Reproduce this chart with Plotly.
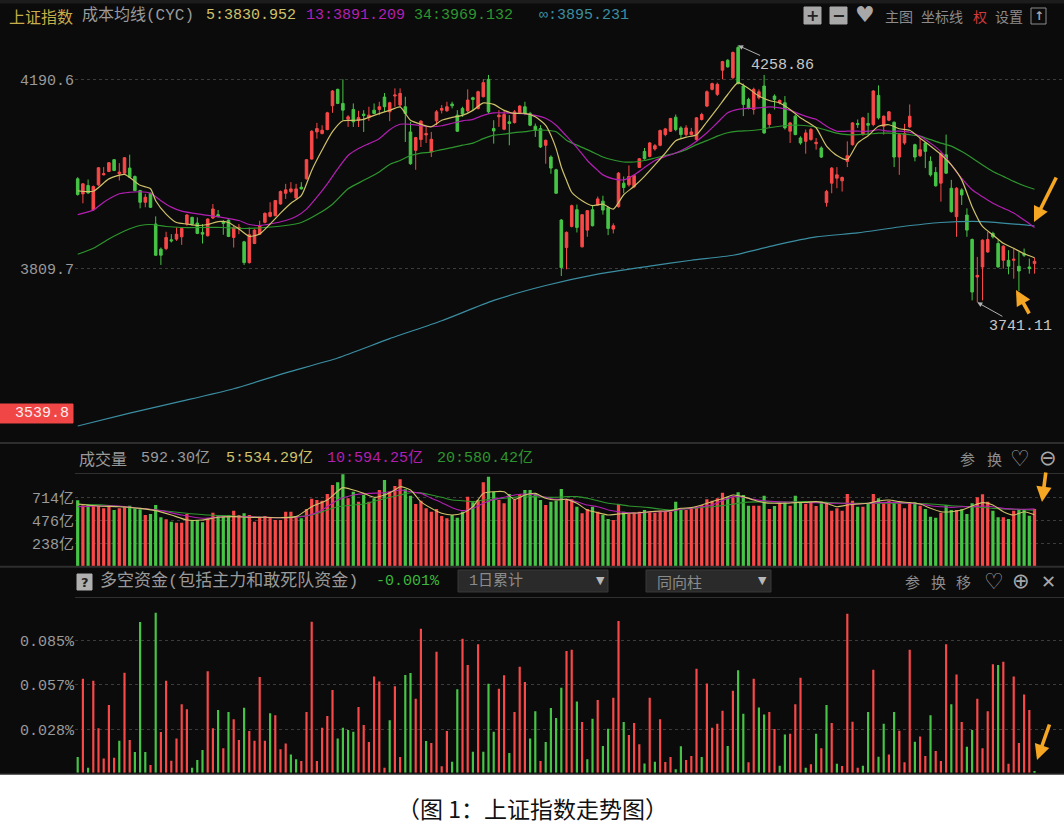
import plotly.graph_objects as go

W, H = 1064, 826

# ---- 上证指数 daily candles ----
opens = [
    3990.1, 3959.7, 3976.6, 3927.3, 3977.9, 3998.2, 4004.9, 4028.6, 4000.2, 4001.5,
    4011.7, 3994.8, 3966.4, 3942.8, 3961.0, 3898.9, 3848.3, 3849.6, 3867.2, 3868.5,
    3873.2, 3898.9, 3912.4, 3900.9, 3882.0, 3875.3, 3911.1, 3917.8, 3903.6, 3907.0,
    3871.9, 3890.1, 3863.1, 3821.2, 3859.7, 3878.6, 3902.3, 3914.4, 3915.8, 3939.4,
    3961.0, 3964.4, 3951.6, 3973.2, 3990.1, 4029.9, 4084.6, 4081.2, 4089.3, 4137.3,
    4170.4, 4142.0, 4110.3, 4129.9, 4108.2, 4120.4, 4113.6, 4128.5, 4129.9, 4155.0,
    4125.1, 4156.9, 4138.6, 4135.3, 4084.6, 4047.5, 4069.1, 4078.5, 4044.1, 4106.9,
    4128.5, 4127.2, 4140.7, 4118.4, 4131.9, 4127.2, 4153.5, 4131.9, 4155.5, 4190.6,
    4091.4, 4115.0, 4090.0, 4104.9, 4103.5, 4123.1, 4135.3, 4121.8, 4096.1, 4091.4,
    4057.6, 4034.0, 4008.3, 3907.0, 3851.6, 3894.2, 3927.9, 3853.0, 3886.7, 3927.9,
    3937.4, 3945.0, 3932.0, 3888.8, 3934.0, 3981.3, 3977.9, 3974.5, 4013.0, 4045.4,
    4035.3, 4050.2, 4057.6, 4079.2, 4086.0, 4114.3, 4092.7, 4079.2, 4079.2, 4069.1,
    4109.6, 4136.6, 4170.4, 4160.3, 4208.9, 4229.1, 4194.0, 4254.8, 4177.1, 4150.1,
    4129.9, 4153.5, 4177.1, 4099.5, 4156.9, 4143.4, 4143.4, 4086.0, 4116.4, 4072.5,
    4065.7, 4069.1, 4060.9, 4052.2, 3942.1, 3981.3, 3991.4, 3986.0, 4025.2, 4058.9,
    4101.5, 4079.2, 4101.5, 4099.4, 4158.2, 4096.1, 4108.2, 4104.2, 4033.9, 4062.3,
    4094.7, 4058.9, 4036.6, 4062.3, 4025.2, 4002.9, 3981.3, 4038.7, 3971.1, 3913.7,
    3967.7, 3917.1, 3867.8, 3792.2, 3812.4, 3842.8, 3880.0, 3859.7, 3825.9, 3825.9,
    3825.9, 3813.8, 3839.4, 3812.4, 3819.2,
]
closes = [
    3958.3, 3979.9, 3961.7, 3974.5, 4012.4, 4000.2, 4022.5, 4006.9, 4003.6, 4032.6,
    3993.4, 3966.4, 3942.8, 3952.9, 3932.7, 3836.1, 3836.1, 3871.9, 3865.1, 3878.6,
    3890.1, 3917.1, 3898.9, 3880.0, 3878.6, 3909.0, 3929.3, 3913.8, 3900.3, 3873.9,
    3892.1, 3892.1, 3821.2, 3877.3, 3886.7, 3895.5, 3920.5, 3922.5, 3946.2, 3964.4,
    3967.8, 3969.8, 3969.8, 3969.8, 4028.6, 4086.0, 4091.4, 4088.0, 4123.1, 4167.0,
    4142.0, 4128.5, 4115.0, 4104.9, 4113.6, 4117.7, 4118.4, 4121.8, 4135.3, 4135.3,
    4143.4, 4158.9, 4162.3, 4121.8, 4020.5, 4073.1, 4106.2, 4081.2, 4069.8, 4125.1,
    4131.9, 4135.3, 4137.3, 4086.0, 4120.4, 4148.8, 4150.1, 4165.6, 4183.9, 4125.1,
    4086.6, 4118.4, 4119.7, 4101.5, 4125.1, 4136.6, 4121.8, 4098.1, 4088.0, 4054.2,
    4067.7, 4011.7, 3961.0, 3811.1, 3882.0, 3936.0, 3892.1, 3917.8, 3925.9, 3895.5,
    3949.6, 3927.0, 3890.1, 3895.5, 4001.5, 3972.5, 3994.8, 3996.8, 4030.6, 4030.6,
    4062.3, 4056.9, 4087.3, 4090.7, 4111.6, 4089.3, 4079.2, 4092.7, 4084.6, 4113.0,
    4119.7, 4165.6, 4181.9, 4180.5, 4226.4, 4215.6, 4244.7, 4181.9, 4140.0, 4131.9,
    4170.4, 4165.6, 4082.6, 4119.7, 4150.1, 4148.1, 4092.7, 4102.8, 4079.2, 4062.3,
    4082.6, 4089.3, 4063.6, 4033.9, 3964.4, 4011.6, 3998.1, 3992.7, 4036.6, 4102.8,
    4099.4, 4112.9, 4098.1, 4167.0, 4112.9, 4116.3, 4125.1, 4033.9, 4079.2, 4081.2,
    4116.3, 4033.9, 4048.8, 4045.4, 3998.1, 3975.9, 4040.7, 4001.5, 3923.9, 3971.1,
    3957.6, 3886.7, 3761.8, 3795.5, 3866.5, 3867.8, 3873.2, 3812.4, 3854.3, 3813.8,
    3828.0, 3804.3, 3836.1, 3809.1, 3823.9,
]
highs = [
    3993.4, 3981.3, 3988.7, 3976.6, 4013.7, 4013.7, 4023.8, 4029.9, 4021.8, 4034.0,
    4038.7, 3996.8, 3967.8, 3959.7, 3962.4, 3914.4, 3851.6, 3883.4, 3878.6, 3892.1,
    3892.1, 3919.2, 3913.8, 3912.4, 3898.9, 3910.4, 3939.4, 3927.3, 3907.0, 3908.4,
    3895.5, 3898.9, 3865.1, 3892.1, 3888.8, 3905.6, 3922.5, 3942.8, 3947.5, 3966.4,
    3979.9, 3983.3, 3979.9, 3983.3, 4029.9, 4088.0, 4102.8, 4098.1, 4125.1, 4169.0,
    4171.7, 4190.6, 4118.4, 4142.0, 4127.2, 4128.5, 4135.3, 4142.0, 4145.4, 4163.0,
    4145.4, 4172.4, 4172.4, 4155.5, 4104.9, 4074.5, 4108.2, 4094.7, 4084.6, 4128.5,
    4138.6, 4145.4, 4145.4, 4128.5, 4135.3, 4170.4, 4155.5, 4167.7, 4190.6, 4199.4,
    4108.2, 4128.5, 4128.5, 4118.4, 4128.5, 4138.6, 4145.4, 4125.1, 4101.5, 4098.1,
    4069.1, 4037.3, 4010.3, 3909.0, 3884.0, 3938.1, 3938.1, 3919.2, 3927.3, 3936.0,
    3954.3, 3956.0, 3934.0, 3900.3, 4003.6, 3994.8, 4017.1, 3998.2, 4032.0, 4052.2,
    4064.4, 4060.3, 4089.3, 4092.7, 4113.0, 4119.7, 4096.1, 4098.1, 4092.7, 4114.3,
    4123.1, 4168.3, 4183.9, 4183.9, 4227.8, 4231.1, 4246.7, 4258.86, 4181.9, 4153.5,
    4173.8, 4170.4, 4199.4, 4123.1, 4160.3, 4150.1, 4156.9, 4104.9, 4119.7, 4075.8,
    4089.3, 4092.7, 4072.4, 4055.5, 3967.7, 4013.7, 4013.7, 3994.8, 4065.7, 4104.2,
    4109.6, 4115.0, 4123.1, 4169.0, 4178.4, 4117.7, 4126.4, 4105.5, 4081.2, 4100.8,
    4140.0, 4060.9, 4072.4, 4063.6, 4035.3, 4013.7, 4043.4, 4079.2, 3988.0, 3973.2,
    3971.1, 3930.6, 3869.8, 3832.7, 3867.8, 3883.3, 3883.3, 3866.5, 3856.3, 3846.2,
    3849.6, 3842.8, 3849.6, 3829.3, 3831.3,
]
lows = [
    3956.3, 3940.8, 3959.7, 3925.9, 3975.9, 3996.8, 4003.6, 4005.6, 3986.7, 4000.2,
    3992.1, 3965.1, 3930.6, 3932.7, 3931.3, 3834.8, 3816.5, 3846.2, 3861.8, 3865.1,
    3857.0, 3895.5, 3895.5, 3878.6, 3859.7, 3873.9, 3909.0, 3912.4, 3877.3, 3872.6,
    3851.6, 3878.6, 3816.5, 3819.2, 3858.4, 3877.3, 3900.3, 3912.4, 3914.4, 3938.1,
    3949.6, 3961.0, 3949.6, 3968.5, 3988.7, 4028.6, 4071.1, 4079.9, 4088.0, 4123.1,
    4140.7, 4108.2, 4094.7, 4094.7, 4094.7, 4084.6, 4106.9, 4120.4, 4118.4, 4125.1,
    4106.2, 4135.3, 4135.3, 4064.4, 4018.4, 4008.3, 4054.2, 4062.3, 4034.0, 4098.1,
    4121.8, 4125.1, 4131.9, 4084.6, 4115.0, 4123.8, 4128.5, 4129.9, 4154.2, 4121.8,
    4061.0, 4094.7, 4088.0, 4057.6, 4101.5, 4121.8, 4118.4, 4096.1, 4074.5, 4052.2,
    4020.5, 4000.2, 3959.7, 3794.2, 3807.7, 3892.1, 3882.0, 3851.6, 3873.2, 3894.2,
    3936.0, 3918.0, 3876.6, 3880.0, 3932.0, 3961.0, 3974.5, 3971.2, 4011.8, 4028.6,
    4033.3, 4046.8, 4055.6, 4075.8, 4084.6, 4086.0, 4071.1, 4075.8, 4077.9, 4067.1,
    4107.6, 4134.6, 4168.3, 4156.9, 4190.6, 4214.3, 4190.6, 4180.5, 4116.4, 4129.9,
    4119.7, 4150.1, 4080.6, 4092.7, 4129.9, 4140.0, 4089.3, 4062.3, 4077.9, 4058.9,
    4040.7, 4067.1, 4048.8, 4031.9, 3934.0, 3961.0, 3971.1, 3964.4, 4013.7, 4056.9,
    4092.7, 4077.1, 4079.2, 4096.1, 4109.6, 4079.2, 4106.2, 4013.7, 3998.1, 4058.9,
    4092.7, 4025.2, 4033.9, 4011.6, 3994.8, 3974.5, 3944.1, 4000.2, 3921.8, 3873.2,
    3937.4, 3873.2, 3745.0, 3741.11, 3745.0, 3840.8, 3869.8, 3811.1, 3809.1, 3797.6,
    3788.8, 3763.8, 3832.7, 3798.9, 3798.9,
]

# 成本均线 (CYC) read at sampled days
cyc5_x = [0, 3, 6, 9, 12, 14, 15, 17, 19, 21, 23, 25, 27, 29, 31, 33, 35, 37, 39, 41,
          43, 45, 47, 49, 51, 53, 55, 57, 59, 60, 62, 64, 66, 68, 70, 72, 74, 76, 78, 80,
          82, 84, 86, 88, 90, 91, 92, 93, 94, 95, 97, 99, 101, 103, 105, 107, 109, 111, 113, 115,
          117, 119, 121, 123, 125, 127, 129, 131, 133, 135, 137, 139, 141, 142, 144, 146, 148, 150, 152, 154,
          156, 158, 160, 162, 164, 166, 168, 170, 172, 174, 176, 178, 180, 182, 184]
cyc5 = [3966, 3965, 3990, 3999, 3977, 3970, 3946, 3919, 3902, 3899, 3896, 3898, 3904, 3902, 3889, 3874, 3879, 3899, 3921, 3941,
        3956, 4007, 4048, 4085, 4107, 4108, 4110, 4118, 4125, 4128, 4135, 4108, 4100, 4095, 4108, 4114, 4118, 4128, 4143, 4140,
        4128, 4122, 4122, 4115, 4098, 4078, 4051, 4014, 3987, 3963, 3946, 3936, 3939, 3929, 3958, 3975, 3995, 4018, 4042, 4067,
        4074, 4079, 4105, 4132, 4160, 4184, 4172, 4157, 4148, 4143, 4130, 4113, 4100, 4093, 4056, 4037, 4029, 4062, 4077, 4096,
        4099, 4091, 4088, 4072, 4056, 4039, 4018, 3988, 3934, 3894, 3877, 3860, 3850, 3839, 3831]

cyc13_x = [0, 3, 5, 8, 10, 12, 14, 16, 18, 20, 24, 28, 31, 33, 35, 37, 40, 42, 44, 46,
           48, 50, 52, 54, 56, 58, 60, 62, 64, 66, 68, 70, 72, 74, 76, 78, 80, 82, 84, 86,
           88, 90, 92, 94, 96, 98, 100, 101, 103, 105, 107, 109, 111, 113, 115, 117, 119, 121, 123, 125,
           127, 129, 131, 133, 135, 137, 139, 141, 142, 144, 146, 148, 150, 152, 154, 156, 158, 160, 162, 164,
           166, 168, 170, 172, 174, 176, 178, 180, 182, 184]
cyc13 = [3918, 3927, 3943, 3960, 3963, 3964, 3961, 3946, 3933, 3925, 3918, 3912, 3906, 3898, 3896, 3899, 3906, 3914, 3929, 3953,
         3980, 4010, 4037, 4051, 4061, 4071, 4089, 4100, 4100, 4097, 4095, 4097, 4102, 4107, 4110, 4118, 4123, 4123, 4122, 4121,
         4118, 4112, 4098, 4076, 4053, 4027, 4007, 3998, 3990, 3988, 3998, 4013, 4027, 4035, 4042, 4052, 4066, 4083, 4103, 4123,
         4130, 4132, 4133, 4135, 4133, 4128, 4120, 4113, 4110, 4096, 4086, 4086, 4086, 4086, 4089, 4086, 4086, 4084, 4076, 4062,
         4045, 4018, 3991, 3968, 3954, 3941, 3931, 3921, 3907, 3892]

cyc34_x = [0, 3, 6, 9, 12, 14, 17, 20, 24, 28, 32, 36, 40, 43, 46, 49, 52, 55, 58, 60,
           62, 64, 66, 68, 70, 72, 74, 76, 78, 80, 82, 84, 86, 88, 90, 92, 94, 96, 98, 100,
           101, 103, 105, 107, 109, 111, 113, 115, 117, 119, 121, 123, 125, 127, 129, 131, 133, 135, 137, 139,
           141, 143, 146, 148, 150, 152, 154, 156, 158, 160, 162, 164, 166, 168, 170, 172, 174, 176, 178, 180,
           182, 184]
cyc34 = [3838, 3850, 3869, 3885, 3896, 3898, 3894, 3892, 3892, 3892, 3890, 3892, 3896, 3902, 3918, 3939, 3970, 3987, 4004, 4019,
         4027, 4037, 4042, 4044, 4049, 4053, 4058, 4062, 4071, 4078, 4080, 4083, 4085, 4088, 4088, 4085, 4068, 4058, 4049, 4039,
         4034, 4028, 4024, 4024, 4027, 4032, 4037, 4042, 4049, 4059, 4067, 4076, 4083, 4086, 4087, 4089, 4093, 4096, 4098, 4098,
         4096, 4091, 4082, 4079, 4079, 4080, 4082, 4082, 4081, 4079, 4076, 4069, 4062, 4056, 4045, 4032, 4018, 4005, 3995, 3985,
         3976, 3969]

cycinf_x = [0, 10, 20, 30, 40, 50, 60, 70, 80, 90, 100, 110, 118, 126, 134, 142, 150, 158, 166, 174, 184]
cycinf = [3492, 3518, 3542, 3567, 3599, 3629, 3668, 3704, 3745, 3775, 3798, 3814, 3826, 3836, 3856, 3873, 3881, 3893, 3902, 3904, 3895]

# ---- 成交量 (亿) ----
volumes = [
    683, 631, 645, 627, 624, 600, 634, 583, 600, 617,
    627, 600, 590, 531, 541, 634, 507, 486, 462, 451,
    451, 541, 479, 479, 455, 497, 555, 531, 521, 531,
    576, 531, 549, 531, 462, 507, 521, 507, 479, 479,
    565, 565, 521, 497, 593, 700, 686, 679, 748, 841,
    869, 952, 704, 772, 669, 738, 669, 704, 790, 893,
    772, 831, 900, 797, 731, 645, 679, 600, 565, 593,
    521, 497, 531, 503, 565, 720, 662, 686, 869, 927,
    772, 686, 652, 748, 693, 748, 790, 790, 755, 686,
    634, 669, 679, 800, 686, 693, 617, 549, 593, 617,
    565, 531, 490, 479, 645, 565, 541, 555, 565, 583,
    559, 555, 576, 572, 565, 669, 583, 583, 607, 617,
    634, 693, 679, 704, 762, 720, 714, 766, 738, 627,
    627, 627, 731, 593, 624, 659, 662, 627, 731, 662,
    645, 669, 624, 669, 662, 576, 600, 576, 748, 679,
    617, 617, 652, 748, 704, 652, 676, 669, 652, 600,
    662, 662, 627, 593, 513, 503, 555, 634, 583, 583,
    590, 541, 652, 714, 745, 669, 576, 507, 507, 490,
    576, 593, 593, 524, 592,
]

vma5_x = [0, 4, 8, 12, 15, 18, 21, 24, 27, 30, 33, 36, 39, 42, 45, 48, 51, 53, 55, 57,
          59, 61, 62, 64, 66, 68, 70, 72, 74, 76, 78, 80, 82, 84, 86, 88, 90, 92, 94, 96,
          98, 100, 102, 104, 106, 108, 110, 112, 114, 116, 118, 120, 122, 124, 126, 128, 130, 132, 134, 136,
          138, 140, 142, 144, 146, 148, 150, 152, 154, 156, 158, 160, 162, 164, 166, 168, 170, 172, 174, 176,
          178, 180, 182, 184]
vma5 = [645, 624, 617, 600, 576, 531, 479, 479, 507, 514, 507, 507, 503, 514, 617, 686, 814, 790, 755, 714,
        738, 790, 824, 790, 669, 600, 549, 531, 549, 617, 755, 772, 772, 693, 738, 755, 704, 686, 693, 652,
        583, 555, 531, 541, 549, 555, 565, 572, 576, 600, 607, 634, 669, 700, 738, 721, 686, 659, 652, 652,
        659, 662, 669, 652, 617, 634, 645, 652, 676, 686, 669, 659, 645, 600, 565, 565, 583, 624, 659, 634,
        565, 531, 565, 534]

vma10_x = [0, 4, 8, 12, 16, 20, 24, 28, 32, 36, 40, 44, 47, 50, 53, 56, 59, 62, 64, 66,
           68, 70, 72, 74, 76, 78, 80, 82, 84, 86, 88, 90, 92, 94, 96, 98, 100, 102, 104, 106,
           108, 110, 112, 114, 116, 118, 120, 122, 124, 126, 128, 130, 132, 134, 136, 138, 140, 142, 144, 146,
           148, 150, 152, 154, 156, 158, 160, 162, 164, 166, 168, 170, 172, 174, 176, 178, 180, 182, 184]
vma10 = [617, 624, 624, 600, 576, 531, 497, 514, 514, 507, 503, 521, 583, 686, 738, 755, 762, 790, 772, 755,
         704, 659, 607, 576, 600, 652, 693, 714, 738, 748, 738, 714, 693, 693, 669, 634, 617, 583, 565, 555,
         549, 565, 565, 572, 590, 600, 617, 634, 680, 721, 714, 693, 679, 669, 665, 662, 659, 659, 652, 652,
         652, 645, 652, 659, 662, 659, 652, 645, 627, 617, 610, 617, 617, 624, 617, 600, 593, 590, 594]

vma20_x = [0, 5, 10, 15, 20, 25, 30, 35, 40, 45, 50, 55, 60, 62, 64, 66, 68, 70, 72, 74,
           76, 78, 80, 82, 84, 86, 88, 90, 92, 94, 96, 98, 100, 102, 104, 106, 108, 110, 112, 114,
           116, 118, 120, 122, 124, 128, 132, 136, 140, 144, 148, 152, 156, 160, 164, 168, 172, 176, 180, 184]
vma20 = [641, 634, 607, 583, 555, 531, 521, 507, 507, 531, 617, 645, 714, 738, 762, 760, 738, 714, 686, 679,
         669, 686, 693, 704, 714, 728, 721, 714, 714, 721, 721, 704, 679, 652, 641, 624, 617, 607, 593, 583,
         590, 600, 610, 617, 628, 659, 669, 665, 669, 662, 652, 652, 655, 652, 645, 627, 617, 600, 590, 580]

# ---- 多空资金 (%, negative = green bar, drawn as 同向柱) ----
flow = [
    -0.0101, 0.0606, -0.0032, 0.0593, 0.0286, 0.0092, 0.0436, 0.0097, -0.0206, 0.0645,
    0.0211, -0.0133, -0.0972, -0.0133, 0.0049, -0.1032, 0.0262, 0.0593, 0.0077, 0.0221,
    0.0441, 0.0409, -0.0032, -0.0082, -0.0146, 0.0654, 0.0286, -0.0404, 0.0157, -0.0391,
    0.0344, 0.0211, -0.0419, 0.0269, 0.0206, 0.0617, 0.0206, -0.0383, 0.0370, 0.0151,
    0.0189, -0.0118, -0.0086, 0.0075, 0.0391, 0.0974, 0.0075, 0.0290, 0.0366, 0.0533,
    -0.0221, -0.0290, -0.0275, -0.0264, 0.0424, 0.0307, 0.0198, 0.0621, 0.0589, 0.0032,
    -0.0338, 0.0557, 0.0101, -0.0630, -0.0643, 0.0477, 0.0929, -0.0204, 0.0191, 0.0780,
    0.0041, 0.0269, -0.0071, -0.0538, 0.0864, 0.0694, -0.0135, 0.0828, -0.0135, -0.0574,
    -0.0264, 0.0542, 0.0628, -0.0127, 0.0391, 0.0684, 0.0585, -0.0221, -0.0396, 0.0075,
    -0.0198, -0.0417, -0.0353, -0.0548, 0.0785, 0.0793, -0.0460, 0.0327, -0.0086, -0.0348,
    0.0469, -0.0172, -0.0284, 0.0484, 0.0978, -0.0327, 0.0243, 0.0320, 0.0183, -0.0060,
    0.0484, -0.0071, 0.0344, 0.0069, 0.0101, -0.0022, -0.0170, 0.0082, 0.0108, 0.0671,
    -0.0101, 0.0576, 0.0290, 0.0316, 0.0400, -0.0172, 0.0529, -0.0660, -0.0381, 0.0067,
    0.0606, -0.0421, -0.0376, 0.0391, 0.0282, -0.0045, -0.0247, 0.0252, 0.0441, 0.0613,
    -0.0032, 0.0054, -0.0252, 0.0157, -0.0436, 0.0320, -0.0058, 0.0043, 0.1026, 0.0329,
    0.0032, -0.0045, -0.0391, 0.0664, -0.0103, -0.0316, 0.0118, -0.0391, 0.0271, 0.0067,
    0.0793, -0.0200, 0.0234, 0.0108, -0.0370, 0.0140, 0.0075, 0.0828, -0.0441, 0.0634,
    0.0327, -0.0168, -0.0275, 0.0477, 0.0157, 0.0396, 0.0699, -0.0694, 0.0716, 0.0058,
    0.0621, 0.0191, 0.0505, 0.0404, -0.0011,
]

price_ticks = [4190.6, 3809.7]
vol_ticks = [714, 476, 238]
flow_ticks = [0.085, 0.057, 0.028]

RED = "#f84848"
GREEN = "#46c446"
C5, C13, C34, CINF = "#cfc26a", "#b21fb2", "#2e962e", "#3b8ea2"
GRAY = "#9a9a9a"
MONO = "Liberation Mono, Noto Sans CJK SC"
CJK = "Noto Sans CJK SC"
BG = "#0b0b0b"

days = list(range(len(closes)))


def px(x):
    return x / W


def py(y):
    return 1 - y / H


fig = go.Figure()

# main pane
fig.add_trace(go.Candlestick(
    x=days, open=opens, high=highs, low=lows, close=closes,
    increasing=dict(line=dict(color=RED, width=1), fillcolor=RED),
    decreasing=dict(line=dict(color=GREEN, width=1), fillcolor=GREEN),
    whiskerwidth=0, xaxis="x", yaxis="y",
))
for xs, ys, c in [(cycinf_x, cycinf, CINF), (cyc34_x, cyc34, C34),
                  (cyc13_x, cyc13, C13), (cyc5_x, cyc5, C5)]:
    fig.add_trace(go.Scatter(x=xs, y=ys, mode="lines", yaxis="y",
                             line=dict(color=c, width=1.2, shape="spline", smoothing=0.6)))

# volume pane
vol_colors = [RED if c >= o else GREEN for o, c in zip(opens, closes)]
fig.add_trace(go.Bar(x=days, y=volumes, width=0.62, marker=dict(color=vol_colors, line_width=0), yaxis="y2"))
for xs, ys, c in [(vma20_x, vma20, C34), (vma10_x, vma10, C13), (vma5_x, vma5, C5)]:
    fig.add_trace(go.Scatter(x=xs, y=ys, mode="lines", yaxis="y2",
                             line=dict(color=c, width=1.1, shape="spline", smoothing=0.6)))

# money flow pane
fig.add_trace(go.Bar(x=days, y=[abs(v) for v in flow], width=0.42,
                     marker=dict(color=[RED if v > 0 else GREEN for v in flow], line_width=0),
                     yaxis="y3"))

shapes = []
ann = []


def text(x, y, s, color=GRAY, size=16, anchor="left", family=MONO):
    ann.append(dict(x=px(x), y=py(y), xref="paper", yref="paper", text=s, showarrow=False,
                    xanchor=anchor, yanchor="middle", font=dict(family=family, size=size, color=color)))


def rect(x0, y0, x1, y1, fill, line=None):
    shapes.append(dict(type="rect", xref="paper", yref="paper", x0=px(x0), x1=px(x1),
                       y0=py(y1), y1=py(y0), fillcolor=fill,
                       line=dict(color=line or fill, width=1), layer="below"))


def hline(y, x0, x1, color, width=1):
    shapes.append(dict(type="line", xref="paper", yref="paper", x0=px(x0), x1=px(x1),
                       y0=py(y), y1=py(y), line=dict(color=color, width=width)))


# caption area
rect(0, 775, W, H, "white")
text(532, 808, "（图 1：上证指数走势图）", "#111111", 23, "center", CJK)

# frame lines
rect(0, 0, W, 3, "#1d1d1d")
hline(443, 0, W, "#2e2e2e", 2)
hline(566.8, 0, W, "#2e2e2e", 2)
hline(473.5, 75, W, "#303030")
hline(597.5, 75, W, "#303030")
hline(774, 0, W, "#3a3a3a")

# header row of main pane
text(7, 16, "上证指数", "#c8ae4a", 16, family=CJK)
text(80, 16, "成本均线(CYC)", GRAY, 16)
text(204, 16, "5:3830.952", C5, 15)
text(304, 16, "13:3891.209", C13, 15)
text(412, 16, "34:3969.132", C34, 15)
text(537, 16, "∞:3895.231", CINF, 15)
rect(804, 7, 821, 24, "#a8a8a8")
rect(830, 7, 847, 24, "#a8a8a8")
text(812.5, 15.5, "<b>+</b>", "#222222", 16, "center", "DejaVu Sans")
text(838.5, 15.5, "<b>−</b>", "#222222", 16, "center", "DejaVu Sans")
text(865, 15, "♥", "#a8a8a8", 22, "center", "DejaVu Sans")
text(883, 16, "主图", "#8c8c8c", 14, family=CJK)
text(919, 16, "坐标线", "#8c8c8c", 14, family=CJK)
text(971, 16, "权", "#d23a3a", 14, family=CJK)
text(993, 16, "设置", "#8c8c8c", 14, family=CJK)
rect(1031, 8, 1046, 24, BG, "#8c8c8c")
text(1038.5, 16, "<b>↑</b>", "#a8a8a8", 12, "center", "DejaVu Sans")

# price labels
rect(0, 404, 73, 423, "#f04646")
text(71, 413.5, "3539.8", "#ffecec", 15, "right")

# volume header
text(77, 458, "成交量", GRAY, 16, family=CJK)
text(139, 458, "592.30亿", GRAY, 15)
text(224, 458, "5:534.29亿", C5, 15)
text(325, 458, "10:594.25亿", C13, 15)
text(435, 458, "20:580.42亿", C34, 15)
text(967, 458, "参", "#8c8c8c", 15, "center", CJK)
text(994, 458, "换", "#8c8c8c", 15, "center", CJK)
text(1020, 458, "♡", "#a8a8a8", 22, "center", "DejaVu Sans")
text(1048, 458, "⊖", "#a8a8a8", 21, "center", "DejaVu Sans")

# money flow header
rect(77, 574, 92, 590, "#b0b0b0")
text(84.5, 582, "<b>?</b>", "#222222", 13, "center", "DejaVu Sans")
text(98, 581, "多空资金(包括主力和敢死队资金)", GRAY, 17)
text(374, 581, "-0.001%", "#3cb83c", 15)
rect(458, 570, 608, 592, "#2a2a2a", "#383838")
text(467, 581, "1日累计", "#8a8a8a", 15)
text(600, 580, "▼", "#b8b8b8", 11, "center", "DejaVu Sans")
rect(646, 570, 771, 592, "#2a2a2a", "#383838")
text(655, 581, "同向柱", "#8a8a8a", 15, family=CJK)
text(762, 580, "▼", "#b8b8b8", 11, "center", "DejaVu Sans")
for xx, s in [(912, "参"), (938, "换"), (963, "移")]:
    text(xx, 581, s, "#8c8c8c", 15, "center", CJK)
text(994, 581, "♡", "#a8a8a8", 22, "center", "DejaVu Sans")
text(1021, 581, "⊕", "#a8a8a8", 21, "center", "DejaVu Sans")
text(1048, 581, "✕", "#a8a8a8", 18, "center", "DejaVu Sans")

# high / low marks
ann.append(dict(x=127, y=highs[127], xref="x", yref="y", text="4258.86", showarrow=True,
                ax=44, ay=20, arrowhead=2, arrowsize=1, arrowwidth=1, arrowcolor="#b0b0b0",
                font=dict(family=MONO, size=15, color="#c8c8c8")))
ann.append(dict(x=173, y=min(lows), xref="x", yref="y", text="3741.11", showarrow=True,
                ax=43, ay=24, arrowhead=2, arrowsize=1, arrowwidth=1, arrowcolor="#b0b0b0",
                font=dict(family=MONO, size=15, color="#c8c8c8")))

# orange pointer arrows
for (tx, ty), (dx, dy) in [((1034, 222), (23, -46)), ((1016, 290), (14, 25)),
                           ((1042, 502), (4, -31)), ((1037, 760), (13, -37))]:
    ann.append(dict(x=px(tx), y=py(ty), xref="paper", yref="paper", text="", showarrow=True,
                    ax=dx, ay=dy, arrowhead=2, arrowsize=0.85, arrowwidth=3.6, arrowcolor="#f5a623"))

axis_common = dict(showline=False, zeroline=False, ticks="", gridcolor="#3c3c3c",
                   griddash="dot", gridwidth=1, anchor="x",
                   tickfont=dict(family=MONO, size=15, color=GRAY))

fig.update_layout(
    width=W, height=H, autosize=False,
    margin=dict(l=0, r=0, t=0, b=0),
    paper_bgcolor=BG, plot_bgcolor=BG,
    showlegend=False, hovermode=False,
    boxgap=0.3,
    xaxis=dict(domain=[px(75), 1], range=[-0.519, 189.67], showgrid=False, zeroline=False,
               showticklabels=False, ticks="", rangeslider=dict(visible=False)),
    yaxis=dict(domain=[py(440), py(30)], range=[3463.7, 4290.0],
               tickvals=price_ticks, ticktext=["4190.6", "3809.7"], **axis_common),
    yaxis2=dict(domain=[py(566.3), py(473.6)], range=[0, 959.5],
                tickvals=vol_ticks, ticktext=[f"{v}亿" for v in vol_ticks], **axis_common),
    yaxis3=dict(domain=[py(772.7), py(598.2)], range=[0, 0.11255],
                tickvals=flow_ticks, ticktext=[f"{v:.3f}%" for v in flow_ticks], **axis_common),
    shapes=shapes,
    annotations=ann,
)

fig.write_html("out.html", config={"displayModeBar": False},
               post_script="document.body.style.margin='0';document.body.style.overflow='hidden';")
